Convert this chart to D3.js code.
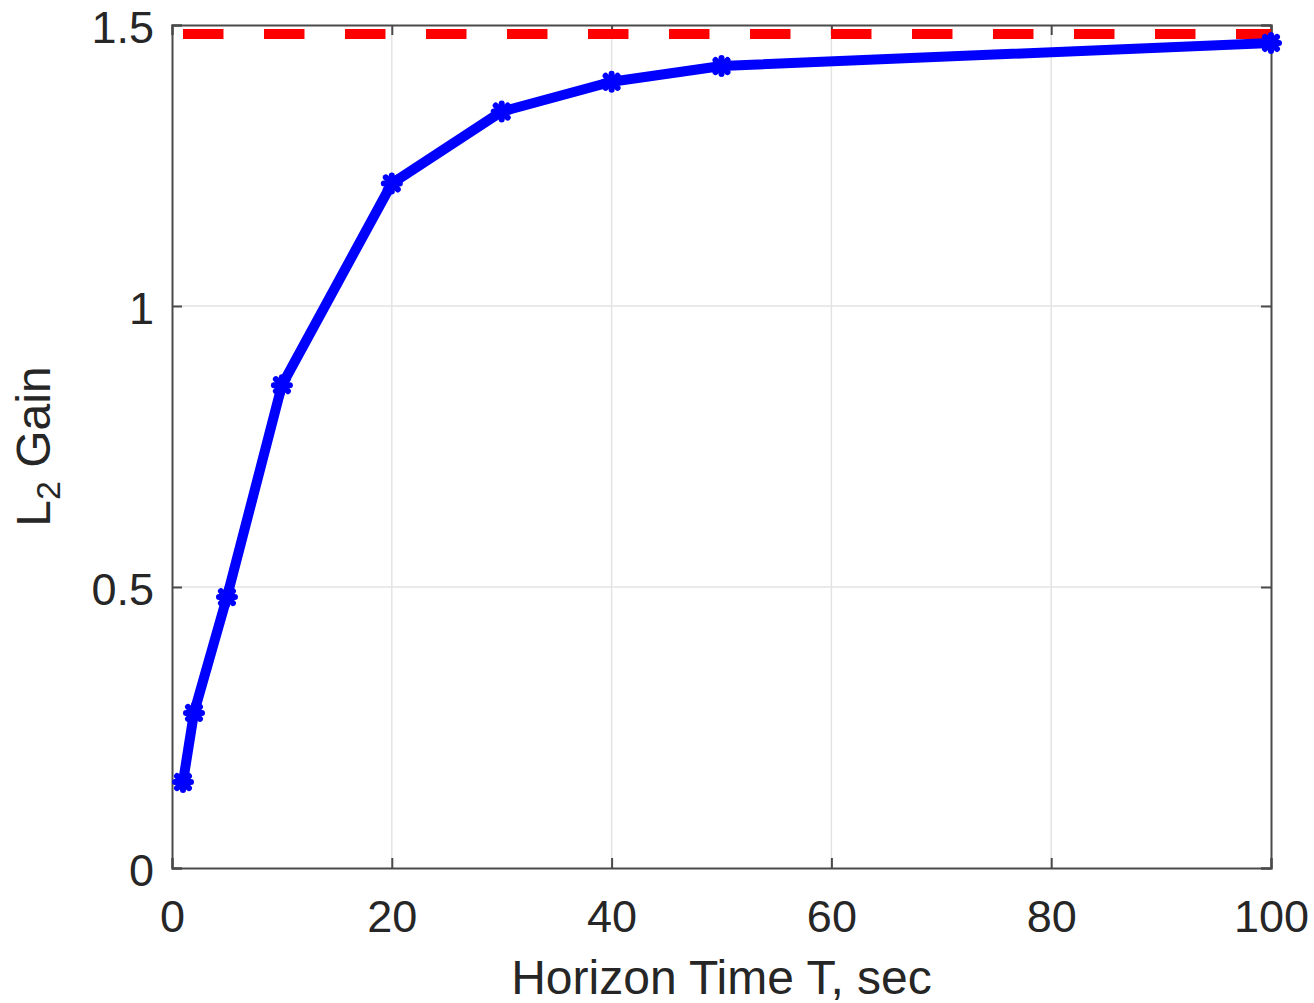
<!DOCTYPE html>
<html>
<head>
<meta charset="utf-8">
<script src="https://cdn.jsdelivr.net/npm/d3@7"></script>
<style>
  html, body { margin: 0; padding: 0; background: #fff; }
  svg { display: block; }
  text { font-family: "Liberation Sans", Arial, Helvetica, sans-serif; fill: #262626; }
</style>
</head>
<body>
<svg id="chart" width="1314" height="1003"></svg>
<script>
// ---- data ----
const horizonT = [1, 2, 5, 10, 20, 30, 40, 50, 100];
const l2Gain = [0.153, 0.276, 0.482, 0.859, 1.218, 1.346, 1.399, 1.427, 1.468];
const boundT = [1, 100];
const boundGain = [1.484, 1.484];
const xTicks = [0, 20, 40, 60, 80, 100];
const yTicks = [0, 0.5, 1, 1.5];
const yTickLabels = ["0", "0.5", "1", "1.5"];
const xLabel = "Horizon Time T, sec";

(function () {
// ---- layout ----
const svg = d3.select("#chart");
const pL = 172, pR = 1271, pT = 25, pB = 868;
const x = d3.scaleLinear().domain([0, 100]).range([pL, pR]);
const y = d3.scaleLinear().domain([0, 1.5]).range([pB, pT]);
const axisColor = "#4a4a4a";
const fontSize = 45;
const titleSize = 48;

// grid
const grid = svg.append("g");
grid.selectAll("line.gx").data(xTicks.slice(1, -1)).enter().append("line")
  .attr("x1", d => x(d)).attr("x2", d => x(d)).attr("y1", pT).attr("y2", pB)
  .attr("stroke", "#e3e3e3").attr("stroke-width", 1.5);
grid.selectAll("line.gy").data(yTicks.slice(1, -1)).enter().append("line")
  .attr("x1", pL).attr("x2", pR).attr("y1", d => y(d)).attr("y2", d => y(d))
  .attr("stroke", "#e3e3e3").attr("stroke-width", 1.5);

// axes via d3 (inner ticks)
const xAxis = d3.axisBottom(x).tickValues(xTicks).tickSize(-10).tickPadding(32).tickFormat(d3.format("d"));
const yAxis = d3.axisLeft(y).tickValues(yTicks).tickSize(-10).tickPadding(18).tickFormat((d, i) => yTickLabels[i]);
const xTop = d3.axisTop(x).tickValues(xTicks).tickSize(-10).tickFormat("");
const yRight = d3.axisRight(y).tickValues(yTicks).tickSize(-10).tickFormat("");

function style(g) {
  g.select(".domain").attr("stroke", axisColor).attr("stroke-width", 2);
  g.selectAll(".tick line").attr("stroke", axisColor).attr("stroke-width", 2);
  g.selectAll(".tick text").attr("font-size", fontSize).attr("fill", "#262626")
    .style("font-family", '"Liberation Sans", Arial, Helvetica, sans-serif');
}
svg.append("g").attr("transform", `translate(0,${pB})`).call(xAxis).call(style)
  .selectAll(".tick text").attr("dy", "0.71em");
svg.append("g").attr("transform", `translate(${pL},0)`).call(yAxis).call(style)
  .selectAll(".tick text").attr("dy", "0.38em");
svg.append("g").attr("transform", `translate(0,${pT})`).call(xTop).call(style);
svg.append("g").attr("transform", `translate(${pR},0)`).call(yRight).call(style);

// red dashed bound
const line = d3.line().x(d => x(d[0])).y(d => y(d[1]));
svg.append("path")
  .datum(boundT.map((t, i) => [t, boundGain[i]]))
  .attr("d", line)
  .attr("fill", "none").attr("stroke", "#ff0000").attr("stroke-width", 10)
  .attr("stroke-dasharray", "40.5,40.5");

// blue line
const pts = horizonT.map((t, i) => [t, l2Gain[i]]);
svg.append("path").datum(pts).attr("d", line)
  .attr("fill", "none").attr("stroke", "#0000ff").attr("stroke-width", 10)
  .attr("stroke-linejoin", "round");

// asterisk markers
const mk = svg.append("g");
const r = 8;
pts.forEach(p => {
  const cx = x(p[0]), cy = y(p[1]);
  const g = mk.append("g").attr("transform", `translate(${cx},${cy})`)
    .attr("stroke", "#0000ff").attr("stroke-width", 6).attr("stroke-linecap", "round");
  g.append("line").attr("x1", -r).attr("x2", r).attr("y1", 0).attr("y2", 0);
  g.append("line").attr("x1", 0).attr("x2", 0).attr("y1", -r).attr("y2", r);
  g.append("line").attr("x1", -r * 0.75).attr("x2", r * 0.75).attr("y1", -r * 0.75).attr("y2", r * 0.75);
  g.append("line").attr("x1", -r * 0.75).attr("x2", r * 0.75).attr("y1", r * 0.75).attr("y2", -r * 0.75);
});

// axis titles
svg.append("text").attr("x", (pL + pR) / 2).attr("y", 994)
  .attr("text-anchor", "middle").attr("font-size", titleSize).text(xLabel);
const yl = svg.append("text")
  .attr("transform", `translate(50,${(pT + pB) / 2}) rotate(-90)`)
  .attr("text-anchor", "middle").attr("font-size", titleSize);
yl.append("tspan").text("L");
yl.append("tspan").attr("font-size", 34).attr("dy", 10).text("2");
yl.append("tspan").attr("dy", -10).text(" Gain");
})();
</script>
</body>
</html>
